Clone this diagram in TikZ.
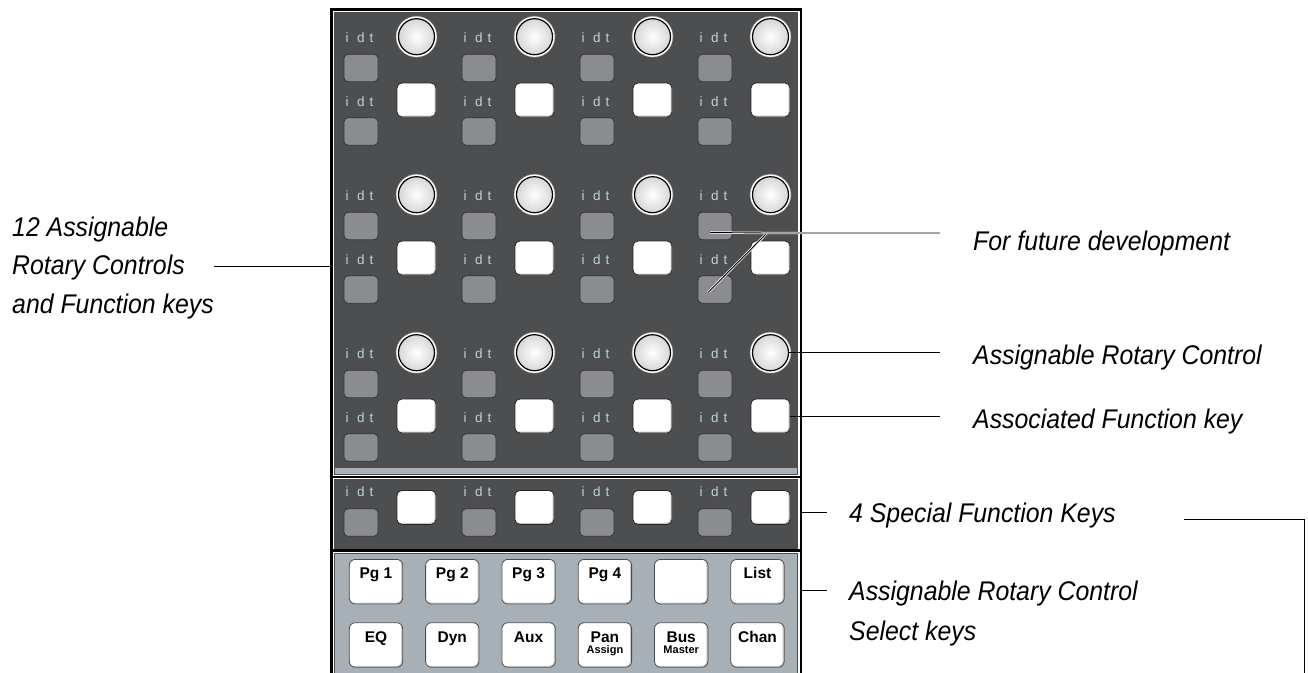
\documentclass[tikz,border=0pt]{standalone}
\usepackage{graphicx}
\usepackage{fontspec}
\setmainfont{Liberation Sans}
\newfontfamily\callfont{Liberation Sans}
\newcommand{\cx}[1]{\scalebox{0.92}[1]{#1}}
\definecolor{panelc}{HTML}{4D4E50}
\definecolor{lightc}{HTML}{A8B0B7}
\definecolor{skeyc}{HTML}{8B8C8F}
\definecolor{idtc}{HTML}{BCD3DC}
\tikzset{
  panelbg/.style={fill=panelc, draw=black!70, line width=0.6pt},
  knob/.style={circle, minimum size=36pt, inner sep=0pt, draw=black, line width=1.2pt,
    inner color=white, outer color=black!16,
    preaction={draw=black!50, line width=5.6pt},
    preaction={draw=white, line width=4.4pt}},
  skey/.style={rectangle, rounded corners=4pt, minimum width=34pt, minimum height=27.5pt,
    inner sep=0pt, fill=skeyc, draw=black!80, line width=0.8pt},
  wkey/.style={rectangle, rounded corners=5pt, minimum width=39pt, minimum height=34pt,
    inner sep=0pt, fill=white, draw=black!85, line width=0.8pt,
    path picture={\draw[black!22, line width=3pt] (path picture bounding box.south west) --
      (path picture bounding box.south east) -- (path picture bounding box.north east);}},
  bkey/.style={rectangle, rounded corners=6pt, minimum width=53.4pt, minimum height=44.6pt,
    inner sep=0pt, fill=white, draw=black!70, line width=0.8pt,
    path picture={\draw[black!20, line width=3pt] (path picture bounding box.south west) --
      (path picture bounding box.south east) -- (path picture bounding box.north east);}},
  idt/.style={font=\fontsize{13.5}{13.5}\selectfont, text=idtc, inner sep=0pt, anchor=base west},
  keytxt/.style={font=\bfseries\fontsize{15.5}{15.5}\selectfont, inner sep=0pt, anchor=base},
  keysub/.style={font=\bfseries\fontsize{11}{11}\selectfont, inner sep=0pt, anchor=base},
  callout/.style={font=\callfont\itshape\fontsize{27}{30}\selectfont, inner sep=0pt, anchor=base west},
  leader/.style={draw=black, line width=0.9pt},
  halo/.style={preaction={draw=white, line width=2.4pt}}
}
\begin{document}
\begin{tikzpicture}[x=1pt, y=-1pt]
\useasboundingbox (0,0) rectangle (1308,672);
\clip (0,0) rectangle (1308,672);
\fill[white] (0,0) rectangle (1308,672);

% panels
\path[panelbg] (334.5,12.5) rectangle (797.5,474.5);
\fill[lightc] (335.2,467.5) rectangle (796.8,474);
\path[panelbg] (334.5,479.5) rectangle (797.5,548);
\path[fill=lightc, draw=black!70, line width=0.6pt] (334.5,553) rectangle (797.5,690);
% frame
\draw[line width=2.6pt] (331.3,9.3) rectangle (800.8,700);
\draw[line width=2.6pt] (331.3,477) -- (800.8,477);
\draw[line width=2.6pt] (331.3,550.5) -- (800.8,550.5);

% rotary groups
\foreach \g in {0,1,2} {
  \foreach \c in {0,1,2,3} {
    \pgfmathsetmacro\dx{118*\c}
    \pgfmathsetmacro\dy{158*\g}
    \node[idt] (ia-\g-\c) at (345.5+\dx,42+\dy) {i\hspace{8.5pt}d\hspace{5pt}t};
    \node[knob] (kn-\g-\c) at (416.5+\dx,36.7+\dy) {};
    \node[skey] (sa-\g-\c) at (361+\dx,68+\dy) {};
    \node[wkey] (wk-\g-\c) at (416.5+\dx,100+\dy) {};
    \node[idt] (ib-\g-\c) at (345.5+\dx,106+\dy) {i\hspace{8.5pt}d\hspace{5pt}t};
    \node[skey] (sb-\g-\c) at (361+\dx,131.5+\dy) {};
  }
}
% special function keys
\foreach \c in {0,1,2,3} {
  \pgfmathsetmacro\dx{118*\c}
  \node[idt] (is-\c) at (345.5+\dx,496) {i\hspace{8.5pt}d\hspace{5pt}t};
  \node[skey] (ss-\c) at (361+\dx,522.5) {};
  \node[wkey] (ws-\c) at (416.5+\dx,507.4) {};
}
% select keys
\foreach \c in {0,...,5} {
  \pgfmathsetmacro\dx{76.3*\c}
  \node[bkey] (ba-\c) at (376+\dx,581.7) {};
  \node[bkey] (bb-\c) at (376+\dx,645) {};
}
\node[keytxt] at ([yshift=-19pt]ba-0.north) {Pg 1};
\node[keytxt] at ([yshift=-19pt]ba-1.north) {Pg 2};
\node[keytxt] at ([yshift=-19pt]ba-2.north) {Pg 3};
\node[keytxt] at ([yshift=-19pt]ba-3.north) {Pg 4};
\node[keytxt] at ([yshift=-19pt]ba-5.north) {List};
\node[keytxt] at ([yshift=-20pt]bb-0.north) {EQ};
\node[keytxt] at ([yshift=-20pt]bb-1.north) {Dyn};
\node[keytxt] at ([yshift=-20pt]bb-2.north) {Aux};
\node[keytxt] at ([yshift=-20pt]bb-3.north) {Pan};
\node[keysub] at ([yshift=-31.5pt]bb-3.north) {Assign};
\node[keytxt] at ([yshift=-20pt]bb-4.north) {Bus};
\node[keysub] at ([yshift=-31.5pt]bb-4.north) {Master};
\node[keytxt] at ([yshift=-20pt]bb-5.north) {Chan};

% callouts
\node[callout] (l1a) at (12,236) {\cx{12 Assignable}};
\node[callout] (l1b) at (12,274.5) {\cx{Rotary Controls}};
\node[callout] (l1c) at (12,313) {\cx{and Function keys}};
\coordinate (fl) at (331,266);
\draw[leader] (l1c.east |- fl) -- (fl);

\node[callout] (l2) at (973,250) {\cx{For future development}};
\coordinate (j2) at (767,233);
\coordinate (e2) at (940,233);
\draw[leader, halo] ([xshift=-7pt,yshift=-3pt]sb-1-3.center) -- (j2);
\draw[leader, halo] ([xshift=-5pt,yshift=-6.5pt]sa-1-3.center) -- (j2) -- (e2);

\node[callout] (l3) at (973,364) {\cx{Assignable Rotary Control}};
\draw[leader] (kn-2-3.east) -- (kn-2-3.east -| e2);
\node[callout] (l4) at (973,428) {\cx{Associated Function key}};
\draw[leader] (wk-2-3.east) -- (wk-2-3.east -| e2);

\node[callout] (l5) at (849,522) {\cx{4 Special Function Keys}};
\coordinate (f5) at (801,512);
\draw[leader] (f5) -- ++(26,0);
\coordinate (r1) at (1184,519);
\coordinate (r2) at (1304,519);
\coordinate (r3) at (1304,690);
\draw[leader] (r1) -- (r2) -- (r3);

\node[callout] (l6) at (849,600) {\cx{Assignable Rotary Control}};
\node[callout] (l7) at (849,640) {\cx{Select keys}};
\coordinate (f6) at (801,590);
\draw[leader] (f6) -- ++(26,0);
\end{tikzpicture}
\end{document}
